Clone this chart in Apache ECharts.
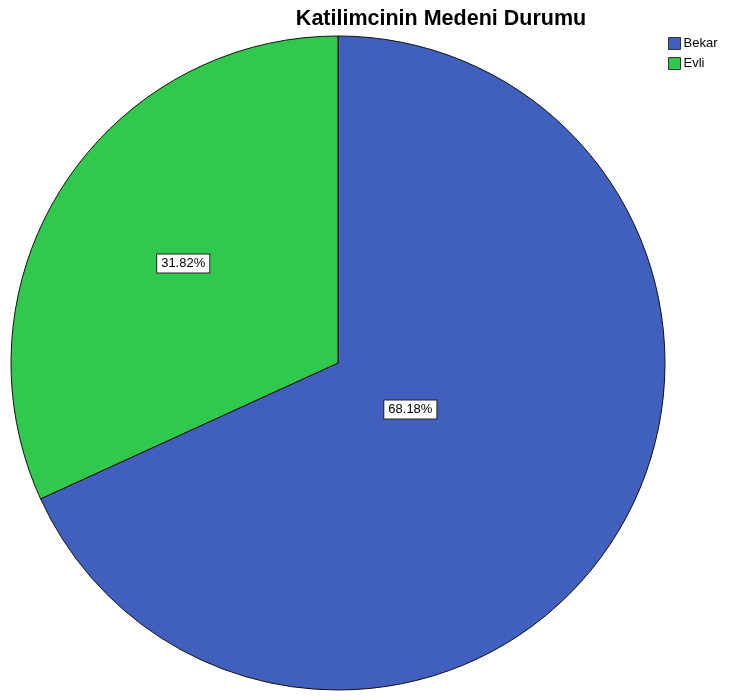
<!DOCTYPE html>
<html><head><meta charset="utf-8">
<script src="https://cdn.jsdelivr.net/npm/echarts@6/dist/echarts.min.js"></script>
<style>html,body{margin:0;padding:0;background:#fff}#c{width:730px;height:700px}</style>
</head><body><div id="c"></div>
<script>
const categories = ['Bekar', 'Evli'];
const values = [68.18, 31.82];
const colors = ['#4160be', '#30c94e'];
const labelTexts = ['68.18%', '31.82%'];

const chart = echarts.init(document.getElementById('c'));
const center = [338, 363];
const R = 327;
const dataMain = categories.map((n, i) => ({ name: n, value: values[i], itemStyle: { color: colors[i] } }));
function labelSeries(showIdx, outerR) {
  return {
    type: 'pie', radius: [0, outerR], center: center, startAngle: 90, clockwise: true,
    silent: true, legendHoverLink: false, animation: false,
    itemStyle: { color: 'rgba(0,0,0,0)', borderWidth: 0 },
    emphasis: { disabled: true },
    labelLine: { show: false },
    data: categories.map((n, i) => ({
      name: n + ' ', value: values[i],
      label: {
        show: i === showIdx, position: 'inside', formatter: labelTexts[i],
        color: '#000', fontFamily: 'Arial, Liberation Sans', fontSize: 13,
        backgroundColor: '#fff', borderColor: '#222', borderWidth: 1, padding: [3, 4, 2, 4]
      }
    }))
  };
}
chart.setOption({
  animation: false,
  title: { text: 'Katilimcinin Medeni Durumu', left: 436, top: 3, textAlign: 'center',
    textStyle: { fontFamily: 'Arial, Liberation Sans', fontWeight: 'bold', fontSize: 21.5, color: '#000' } },
  legend: {
    data: categories, orient: 'vertical', left: 668, top: 37, padding: 0, itemWidth: 12, itemHeight: 12, itemGap: 7,
    icon: 'rect', itemStyle: { borderColor: '#333', borderWidth: 1 },
    textStyle: { fontFamily: 'Arial, Liberation Sans', fontSize: 13, color: '#000', padding: [0, 0, 0, -2] }
  },
  series: [
    {
      type: 'pie', radius: [0, R], center: center, startAngle: 90, clockwise: true,
      data: dataMain, label: { show: false }, labelLine: { show: false },
      itemStyle: { borderColor: '#111', borderWidth: 1 }, emphasis: { disabled: true }
    },
    labelSeries(0, 166),
    labelSeries(1, 362)
  ]
});
</script></body></html>
